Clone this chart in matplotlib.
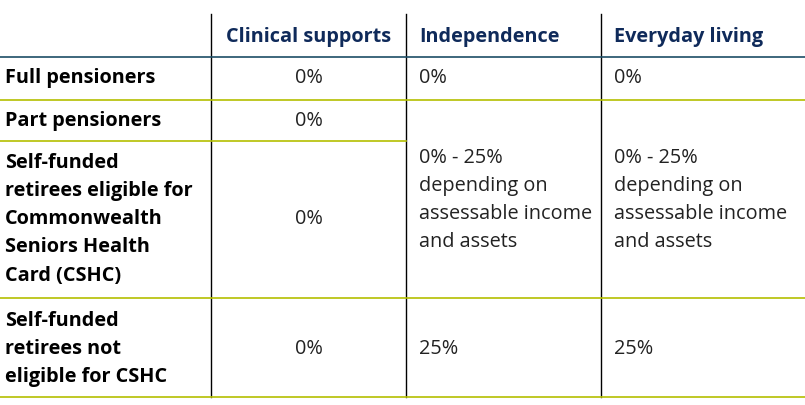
import matplotlib
matplotlib.use("Agg")
import matplotlib.pyplot as plt

columns = ["Clinical supports", "Independence", "Everyday living"]
row_labels = ["Full pensioners", "Part pensioners",
              "Self-funded\nretirees eligible for\nCommonwealth\nSeniors Health\nCard (CSHC)",
              "Self-funded\nretirees not\neligible for CSHC"]
clinical = ["0%", "0%", "0%", "0%"]
independence = ["0%", "0% - 25%\ndepending on\nassessable income\nand assets", "25%"]
everyday = ["0%", "0% - 25%\ndepending on\nassessable income\nand assets", "25%"]

fig = plt.figure(figsize=(8.05, 4.05), dpi=100)
ax = fig.add_axes([0, 0, 1, 1])
ax.set_xlim(0, 805); ax.set_ylim(405, 0); ax.axis("off")

FONT = "Open Sans"
navy = "#0f2a5a"; olive = "#b4bf00"; teal = "#1d4e66"; txt = "#222222"
fs = 14.3
ls = 1.55

# grid
vx = [211, 406, 601]
for x in vx:
    ax.plot([x, x], [14, 397], color="black", lw=1)
ax.plot([0, 805], [57, 57], color=teal, lw=1.2)
ax.plot([0, 805], [100, 100], color=olive, lw=1.2)
ax.plot([0, 406], [141, 141], color=olive, lw=1.2)
ax.plot([0, 805], [298, 298], color=olive, lw=1.2)
ax.plot([0, 805], [397, 397], color=olive, lw=1.2)

# header
ax.text(309, 37, columns[0], ha="center", va="center", fontsize=fs, fontweight="bold", color=navy, family=FONT)
ax.text(419, 37, columns[1], ha="left", va="center", fontsize=fs, fontweight="bold", color=navy, family=FONT)
ax.text(614, 37, columns[2], ha="left", va="center", fontsize=fs, fontweight="bold", color=navy, family=FONT)

# row labels
row_y = [78, 121, 219, 349]
for lab, y in zip(row_labels, row_y):
    ax.text(5, y, lab, ha="left", va="center", fontsize=fs, fontweight="bold", color="black",
            family=FONT, linespacing=ls)

# clinical
clin_y = [78, 121, 219, 349]
for v, y in zip(clinical, clin_y):
    ax.text(309, y, v, ha="center", va="center", fontsize=fs, color=txt, family=FONT)

# independence / everyday (merged middle cell)
other_y = [78, 200, 349]
for v, y in zip(independence, other_y):
    ax.text(419, y, v, ha="left", va="center", fontsize=fs, color=txt, family=FONT, linespacing=ls)
for v, y in zip(everyday, other_y):
    ax.text(614, y, v, ha="left", va="center", fontsize=fs, color=txt, family=FONT, linespacing=ls)

fig.savefig("out.png", dpi=100, facecolor="white")
